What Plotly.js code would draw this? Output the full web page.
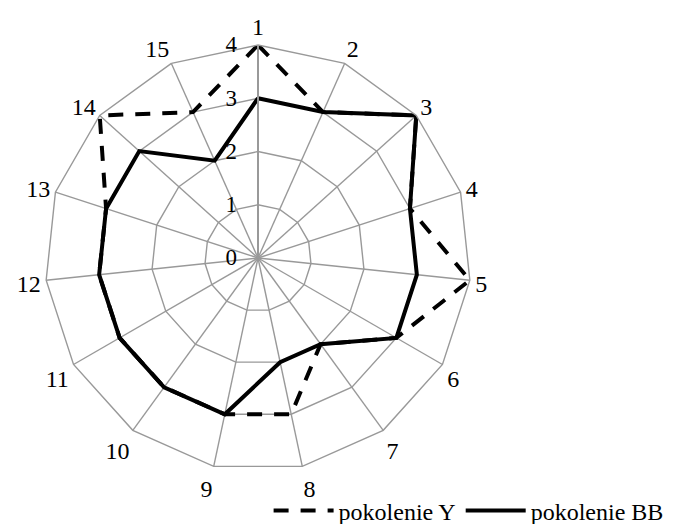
<!DOCTYPE html>
<html>
<head>
<meta charset="utf-8">
<script src="https://cdn.plot.ly/plotly-3.0.1.min.js"></script>
<style>html,body{margin:0;padding:0;background:#fff;}#chart{width:680px;height:524px;}</style>
</head>
<body>
<div id="chart"></div>
<script>
const categories = ["1","2","3","4","5","6","7","8","9","10","11","12","13","14","15"];
const seriesNames = ["pokolenie Y", "pokolenie BB"];
const valuesY  = [4,3,4,3,4,3,2,3,3,3,3,3,3,4,3];
const valuesBB = [3,3,4,3,3,3,2,2,3,3,3,3,3,3,2];
const radialTicks = [0,1,2,3,4];

function closed(a){ return a.concat([a[0]]); }

const traces = [
  {
    type: "scatterpolar",
    r: closed(valuesY),
    theta: closed(categories),
    name: seriesNames[0],
    mode: "lines",
    line: {color: "#000", width: 4, dash: "15px,12px"},
    hoverinfo: "skip"
  },
  {
    type: "scatterpolar",
    r: closed(valuesBB),
    theta: closed(categories),
    name: seriesNames[1],
    mode: "lines",
    line: {color: "#000", width: 4},
    hoverinfo: "skip"
  }
];

const layout = {
  width: 680, height: 524,
  margin: {l: 0, r: 0, t: 0, b: 0, autoexpand: false},
  paper_bgcolor: "#fff",
  font: {family: "Liberation Serif, Times New Roman, serif", size: 24, color: "#000"},
  showlegend: true,
  legend: {
    orientation: "h",
    x: 0.395, y: 1 - 511/524, xanchor: "left", yanchor: "middle",
    font: {family: "Liberation Serif, serif", size: 24, color: "#000"},
    itemwidth: 60,
    tracegroupgap: 0,
    bgcolor: "rgba(0,0,0,0)"
  },
  polar: {
    domain: {x: [45/680, 471/680], y: [1 - 471/524, 1 - 45/524]},
    gridshape: "linear",
    bgcolor: "#fff",
    angularaxis: {
      type: "category",
      categoryarray: categories,
      direction: "clockwise",
      rotation: 90,
      showline: true,
      linecolor: "#999",
      linewidth: 1.4,
      gridcolor: "#999",
      gridwidth: 1.4,
      ticks: "",
      tickfont: {family: "Liberation Serif, serif", size: 24, color: "#000"}
    },
    radialaxis: {
      range: [0, 4],
      tickvals: radialTicks,
      ticktext: radialTicks.map(String),
      angle: 90,
      side: "counterclockwise",
      showline: true,
      linecolor: "#999",
      linewidth: 2,
      gridcolor: "#999",
      gridwidth: 1.4,
      ticks: "outside",
      ticklen: 12,
      tickcolor: "rgba(0,0,0,0)",
      tickangle: 90,
      tickfont: {family: "Liberation Serif, serif", size: 23, color: "#000"}
    }
  }
};

Plotly.newPlot("chart", traces, layout, {displayModeBar: false, staticPlot: true});
</script>
</body>
</html>
